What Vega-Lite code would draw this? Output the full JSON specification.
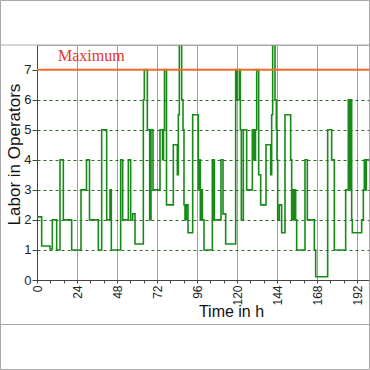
{
  "$schema": "https://vega.github.io/schema/vega-lite/v6.json",
  "width": 332,
  "height": 235,
  "autosize": {"type": "none"},
  "padding": {"left": 37, "top": 45, "right": 1, "bottom": 90},
  "background": "white",
  "config": {
    "view": {"stroke": "#a8a8a8", "strokeWidth": 1},
    "font": "Liberation Sans"
  },
  "datasets": {
    "labor": [
      {"t": 0, "v": 2.1}, {"t": 2.8, "v": 1.13}, {"t": 7.8, "v": 1.03}, {"t": 9.2, "v": 2.0},
      {"t": 11.8, "v": 1.0}, {"t": 13.8, "v": 4.0}, {"t": 15.8, "v": 2.0}, {"t": 20.8, "v": 1.0},
      {"t": 26.4, "v": 3.0}, {"t": 29.7, "v": 4.0}, {"t": 31.5, "v": 2.0}, {"t": 36.8, "v": 1.0},
      {"t": 38.8, "v": 5.0}, {"t": 41.8, "v": 2.0}, {"t": 43.8, "v": 3.0}, {"t": 44.6, "v": 1.0},
      {"t": 50.2, "v": 4.0}, {"t": 51.4, "v": 2.0}, {"t": 54.8, "v": 4.0}, {"t": 56.2, "v": 2.0},
      {"t": 57.4, "v": 2.2}, {"t": 58.8, "v": 1.2}, {"t": 63.8, "v": 6.0}, {"t": 64.4, "v": 7.0},
      {"t": 66.2, "v": 5.0}, {"t": 67.6, "v": 2.0}, {"t": 68.4, "v": 5.0}, {"t": 69.6, "v": 3.0},
      {"t": 73.8, "v": 5.0}, {"t": 75.3, "v": 4.0}, {"t": 75.9, "v": 5.0}, {"t": 76.5, "v": 7.0},
      {"t": 77.7, "v": 2.5}, {"t": 81.8, "v": 4.5}, {"t": 84.2, "v": 3.5}, {"t": 84.8, "v": 5.5},
      {"t": 85.4, "v": 8.0}, {"t": 86.8, "v": 6.0}, {"t": 87.6, "v": 5.0}, {"t": 88.2, "v": 2.5},
      {"t": 88.8, "v": 2.0}, {"t": 89.6, "v": 2.5}, {"t": 90.6, "v": 1.57}, {"t": 93.4, "v": 5.5},
      {"t": 96.8, "v": 3.0}, {"t": 97.4, "v": 4.0}, {"t": 98.0, "v": 2.0}, {"t": 98.6, "v": 3.0},
      {"t": 99.2, "v": 2.0}, {"t": 100.2, "v": 1.0}, {"t": 105.2, "v": 4.0}, {"t": 105.6, "v": 2.0},
      {"t": 106.0, "v": 4.0}, {"t": 106.4, "v": 2.0}, {"t": 110.4, "v": 4.0}, {"t": 111.6, "v": 2.2},
      {"t": 113.2, "v": 1.2}, {"t": 119.2, "v": 7.0}, {"t": 120.0, "v": 6.0}, {"t": 121.4, "v": 7.0},
      {"t": 122.0, "v": 5.0}, {"t": 122.6, "v": 2.0}, {"t": 123.8, "v": 5.0}, {"t": 125.8, "v": 3.0},
      {"t": 129.2, "v": 5.0}, {"t": 130.2, "v": 4.0}, {"t": 131.1, "v": 5.0}, {"t": 131.8, "v": 7.0},
      {"t": 133.0, "v": 3.5}, {"t": 134.2, "v": 2.5}, {"t": 137.4, "v": 4.5}, {"t": 140.2, "v": 3.5},
      {"t": 140.8, "v": 5.5}, {"t": 141.4, "v": 8.0}, {"t": 142.8, "v": 6.0}, {"t": 143.6, "v": 5.0},
      {"t": 144.0, "v": 4.0}, {"t": 144.4, "v": 2.0}, {"t": 145.4, "v": 2.5}, {"t": 146.8, "v": 1.57},
      {"t": 148.8, "v": 5.5}, {"t": 152.2, "v": 4.0}, {"t": 152.8, "v": 2.0}, {"t": 153.4, "v": 3.0},
      {"t": 154.0, "v": 2.0}, {"t": 154.6, "v": 3.0}, {"t": 155.2, "v": 2.0}, {"t": 155.8, "v": 1.0},
      {"t": 160.8, "v": 4.0}, {"t": 162.2, "v": 2.0}, {"t": 166.4, "v": 1.0}, {"t": 167.2, "v": 0.11},
      {"t": 174.4, "v": 5.0}, {"t": 176.8, "v": 4.0}, {"t": 178.4, "v": 1.0}, {"t": 185.2, "v": 3.0},
      {"t": 186.8, "v": 6.0}, {"t": 187.4, "v": 3.0}, {"t": 188.0, "v": 6.0}, {"t": 188.8, "v": 2.0},
      {"t": 189.2, "v": 1.57}, {"t": 194.8, "v": 2.0}, {"t": 195.8, "v": 3.0}, {"t": 196.4, "v": 4.0},
      {"t": 197.0, "v": 3.0}, {"t": 197.6, "v": 4.0}, {"t": 199.2, "v": 4.0}
    ],
    "limit": [{"t": 12.6, "v": 7, "label": "Maximum"}],
    "frame": [{"t": -21.9, "t2": 199.5, "v": 9.3, "v2": -2.978}],
    "bands": [{"t": -22.2, "t2": 199.5, "v": 7.82}, {"t": -22.2, "t2": 199.5, "v": -1.481}]
  },
  "layer": [
    {
      "data": {"name": "labor"},
      "mark": {"type": "line", "interpolate": "step-after", "color": "#178a17", "strokeWidth": 1.6, "clip": true},
      "encoding": {
        "x": {
          "field": "t",
          "type": "quantitative",
          "scale": {"domain": [0, 199.2], "nice": false, "zero": false},
          "axis": {
            "values": [0, 8, 16, 24, 32, 40, 48, 56, 64, 72, 80, 88, 96, 104, 112, 120, 128, 136, 144, 152, 160, 168, 176, 184, 192],
            "tickCount": 40,
            "format": "d",
            "labelExpr": "datum.value % 24 === 0 ? datum.label : ''",
            "labelAngle": -90,
            "labelFlush": false,
            "labelOverlap": false,
            "labelFontSize": 12,
            "labelColor": "#222",
            "labelPadding": 2,
            "tickSize": 3,
            "tickColor": "#444",
            "domainColor": "#444",
            "grid": true,
            "gridColor": "#a0a0a0",
            "gridWidth": 1,
            "gridOpacity": {"condition": {"test": "datum.value % 24 === 0 && datum.value > 0", "value": 1}, "value": 0},
            "title": "Time in h",
            "titleFontSize": 16,
            "titleFontWeight": "normal",
            "titleColor": "#111",
            "titleX": 194,
            "titleY": 36,
            "titleAlign": "center",
            "titleBaseline": "alphabetic"
          }
        },
        "y": {
          "field": "v",
          "type": "quantitative",
          "scale": {"domain": [0, 7.82], "nice": false},
          "axis": {
            "values": [0, 1, 2, 3, 4, 5, 6, 7],
            "tickCount": 20,
            "format": "d",
            "labelOverlap": false,
            "labelFontSize": 13,
            "labelColor": "#222",
            "labelPadding": 1,
            "tickSize": 5,
            "tickColor": "#444",
            "domainColor": "#444",
            "grid": true,
            "gridColor": "#2f6a2f",
            "gridDash": [3, 3],
            "gridWidth": 1,
            "gridOpacity": {"condition": {"test": "datum.value > 0 && datum.value < 7", "value": 1}, "value": 0},
            "title": "Labor in Operators",
            "titleFontSize": 17,
            "titleFontWeight": "normal",
            "titleColor": "#111",
            "titleAngle": -90,
            "titleX": -18,
            "titleY": 109,
            "titleAlign": "center",
            "titleBaseline": "alphabetic"
          }
        }
      }
    },
    {
      "data": {"name": "frame"},
      "mark": {"type": "rect", "fill": null, "stroke": "#a8a8a8", "strokeWidth": 1, "clip": false},
      "encoding": {
        "x": {"field": "t", "type": "quantitative"},
        "x2": {"field": "t2"},
        "y": {"field": "v", "type": "quantitative"},
        "y2": {"field": "v2"}
      }
    },
    {
      "data": {"name": "bands"},
      "mark": {"type": "rule", "color": "#a8a8a8", "strokeWidth": 1, "clip": false},
      "encoding": {
        "x": {"field": "t", "type": "quantitative"},
        "x2": {"field": "t2"},
        "y": {"field": "v", "type": "quantitative"}
      }
    },
    {
      "data": {"name": "limit"},
      "mark": {"type": "rule", "color": "#f26b2a", "strokeWidth": 2},
      "encoding": {"y": {"field": "v", "type": "quantitative"}}
    },
    {
      "data": {"name": "limit"},
      "mark": {"type": "text", "font": "Liberation Serif", "fontSize": 16, "color": "#e3342a", "align": "left", "baseline": "alphabetic", "dy": -9},
      "encoding": {
        "x": {"field": "t", "type": "quantitative"},
        "y": {"field": "v", "type": "quantitative"},
        "text": {"field": "label"}
      }
    }
  ]
}
